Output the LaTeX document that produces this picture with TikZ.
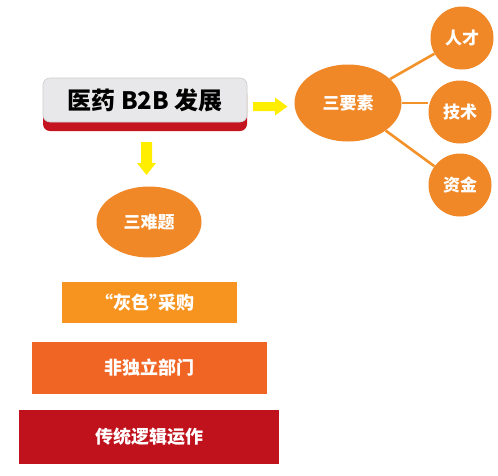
\documentclass[tikz,border=0pt]{standalone}
\usepackage{fontspec}
\setmainfont{Noto Sans CJK SC}
\usetikzlibrary{shadows}
\definecolor{orng}{RGB}{240,136,40}
\definecolor{lineor}{RGB}{242,146,40}
\definecolor{rone}{RGB}{247,148,32}
\definecolor{rtwo}{RGB}{240,100,36}
\definecolor{rthree}{RGB}{192,18,28}
\definecolor{ylw}{RGB}{255,238,0}
\definecolor{tgray}{RGB}{232,232,234}
\definecolor{tred}{RGB}{196,20,32}
\tikzset{
  x=1pt, y=-1pt,
  wtext/.style={text=white, font=\bfseries\fontsize{17}{20}\selectfont, inner sep=0pt},
  ellnode/.style={ellipse, fill=orng, wtext},
  circnode/.style={circle, fill=orng, wtext, minimum size=63pt},
  recnode/.style={rectangle, wtext, font=\bfseries\fontsize{18}{21}\selectfont},
  conn/.style={draw=lineor, line width=2.6pt},
  arrowfill/.style={fill=ylw}
}
\usetikzlibrary{shapes.geometric}
\begin{document}
\begin{tikzpicture}
\useasboundingbox[fill=white] (0,0) rectangle (498,475);
% title
\node[rectangle, rounded corners=7pt, fill=tgray, draw=black!20, line width=0.6pt,
  minimum width=204pt, minimum height=44pt, inner sep=0pt,
  font=\bfseries\fontsize{24}{28}\selectfont,
  drop shadow={shadow xshift=0pt, shadow yshift=-9pt, fill=tred, opacity=1}]
  (title) at (145,100) {医药 B2B 发展};
% right arrow
\fill[arrowfill] (253,102) -- (275,102) -- (275,97.5) -- (287.5,106.5) -- (275,115.5) -- (275,111) -- (253,111) -- cycle;
% down arrow
\fill[arrowfill] (141,142) -- (152,142) -- (152,163) -- (156,163) -- (146.5,175) -- (137,163) -- (141,163) -- cycle;
% three elements
\node[ellnode, minimum width=107pt, minimum height=77pt] (ya) at (348,103) {三要素};
\node[circnode] (c1) at (462,38) {人才};
\node[circnode] (c2) at (460,112) {技术};
\node[circnode] (c3) at (460,185) {资金};
\draw[conn] (ya) -- (c1);
\draw[conn] (ya.east) -- (ya.east -| c2.west);
\draw[conn] (ya) -- (c3);
% three problems
\node[ellnode, minimum width=105pt, minimum height=71pt] (nt) at (149,222) {三难题};
\node[recnode, fill=rone, minimum width=175pt, minimum height=41pt] (r1) at (149.5,302.5) {\addfontfeatures{RawFeature=+palt}“灰色”采购};
\node[recnode, fill=rtwo, minimum width=235pt, minimum height=52pt] (r2) at (149.5,368) {非独立部门};
\node[recnode, fill=rthree, minimum width=260pt, minimum height=54pt] (r3) at (149,437) {传统逻辑运作};
\end{tikzpicture}
\end{document}
